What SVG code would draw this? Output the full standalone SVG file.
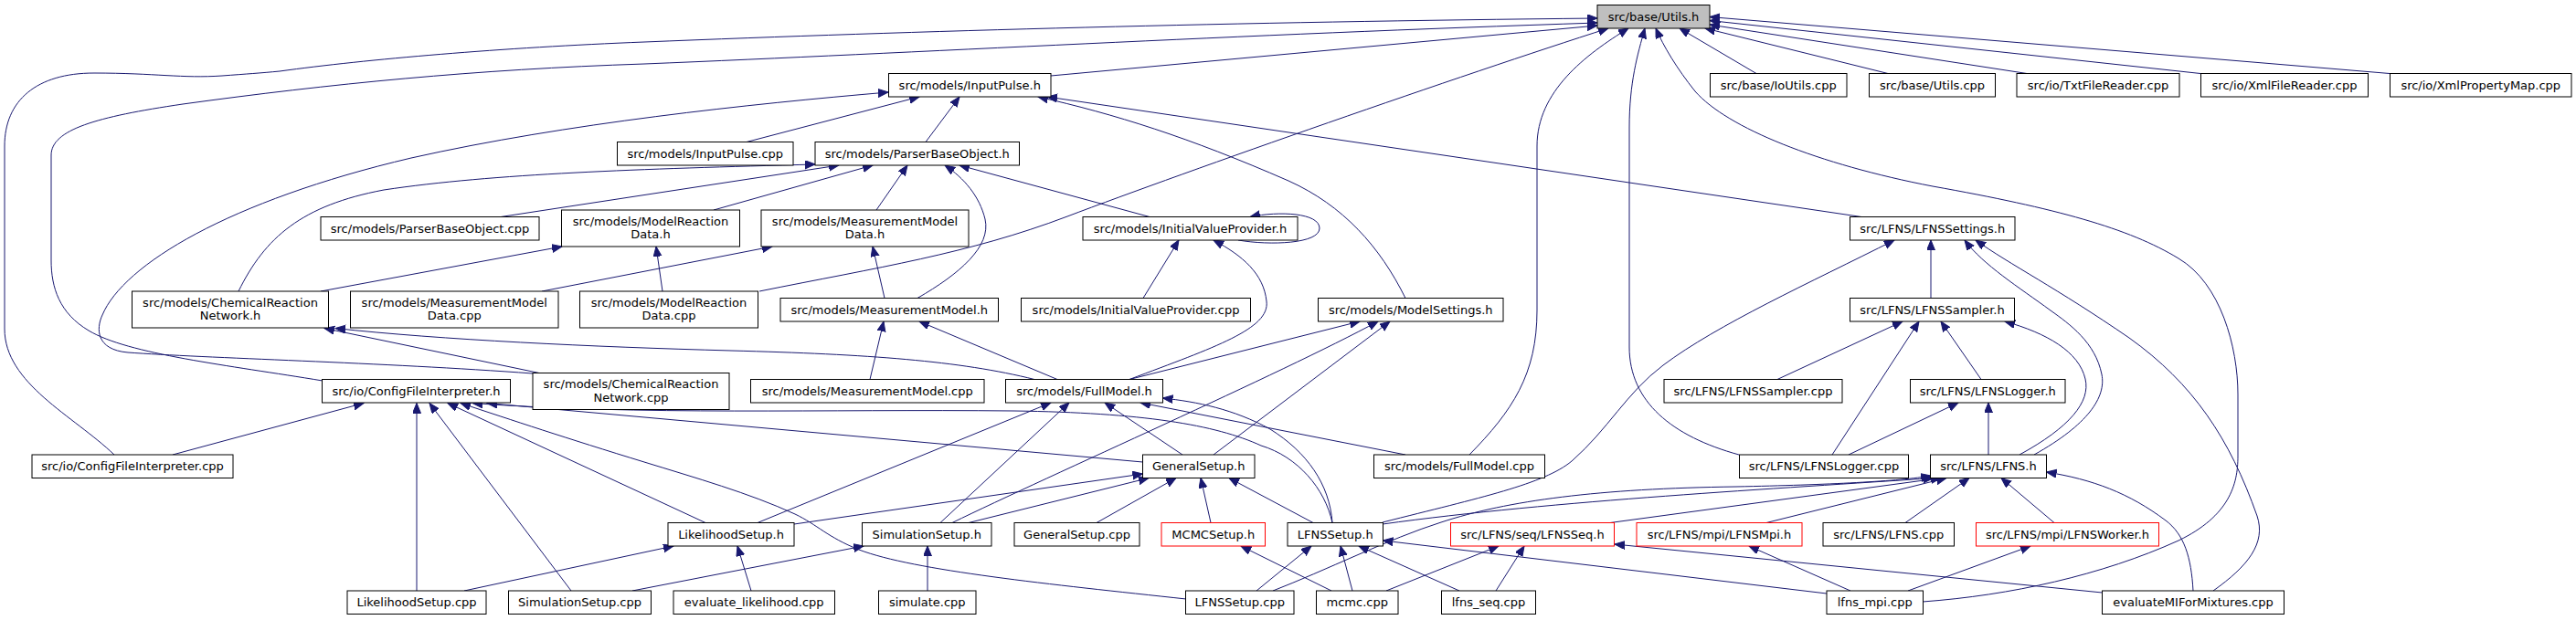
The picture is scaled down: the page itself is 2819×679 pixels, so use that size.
<svg xmlns="http://www.w3.org/2000/svg" width="2819" height="679" viewBox="0 0 2819 679">
<style>
.node rect{fill:#ffffff;stroke:#000000;stroke-width:1}
.node.red rect{stroke:#ff0000}
.node.root rect{fill:#bfbfbf}
.node text{font-family:"DejaVu Sans","Liberation Sans",sans-serif;font-size:13px;text-anchor:middle;fill:#000000}
.edges path{fill:none;stroke:#191970;stroke-width:1;marker-end:url(#arr)}
</style>
<defs>
<marker id="arr" markerUnits="userSpaceOnUse" markerWidth="12" markerHeight="10" refX="11" refY="4.5" orient="auto">
<path d="M0,0 L11,4.5 L0,9 z" fill="#191970" stroke="#191970" stroke-width="1"/>
</marker>
</defs>
<rect x="0" y="0" width="2819" height="679" fill="#ffffff"/>
<g id="connectors" class="edges">
<path d="M125,498 C80,455 5,420 5,360 L5,160 C5,110 40,80 103,80 C170,80 200,86 243,83 C270,81 285,80 306,78 C400,65 550,52 705,46 C1000,34 1350,24 1748,20"/>
<path d="M353,417 C250,400 140,388 97,362 C65,343 56,315 56,285 L56,170 C56,142 105,128 200,114 C360,92 520,76 705,70 C1000,58 1350,38 1748,25"/>
<path d="M1150,83 L1748,28"/>
<path d="M831,319 C960,293 1060,278 1168,237 C1300,187 1600,82 1760,31"/>
<path d="M1608,498 C1655,450 1682,410 1682,340 L1682,160 C1682,100 1735,60 1782,31"/>
<path d="M1903,498 C1830,478 1783,440 1783,380 L1783,140 C1783,90 1792,60 1800,31"/>
<path d="M2104,659 C2200,652 2300,630 2384,592 C2440,565 2449,530 2449,500 L2449,432 C2449,380 2430,310 2384,283 C2330,250 2250,228 2115,204 C1990,180 1890,140 1855,100 C1835,75 1820,50 1812,31"/>
<path d="M1922,80.5 L1838,31"/>
<path d="M2066,80.5 L1866,31"/>
<path d="M2218,80.5 L1871,27"/>
<path d="M2408,80.5 L1871,22.5"/>
<path d="M2615,80.5 L1871,18.5"/>
<path d="M583,409 C420,397 220,392 140,386 C105,383 105,360 112,345 C135,290 250,220 450,173 C620,135 820,114 972,101"/>
<path d="M817,155.5 L1006,106"/>
<path d="M1013,155.5 L1050,106"/>
<path d="M1538,326.5 C1510,270 1470,225 1410,198 C1300,150 1220,125 1136,106"/>
<path d="M2037,237.5 L1146,106"/>
<path d="M261,319 C290,260 330,225 420,208 C540,190 700,185 892,180"/>
<path d="M548,237.5 L918,181"/>
<path d="M781,230 L955,181"/>
<path d="M959,230 L993,181"/>
<path d="M1004,326.5 C1050,300 1085,270 1078,240 C1072,215 1055,195 1034,181"/>
<path d="M1258,237.5 L1050,181"/>
<path d="M351,319 L615,270"/>
<path d="M725,319 L718,270"/>
<path d="M593,319 L845,270"/>
<path d="M968,326.5 L955,270"/>
<path d="M1355,263 C1390,269 1444,267 1444,250 C1444,233 1400,231 1368,237.5"/>
<path d="M1251,326.5 L1290,263"/>
<path d="M1236,415.5 C1330,380 1390,360 1386,330 C1383,300 1360,280 1328,263"/>
<path d="M1513,572 C1620,545 1690,530 1720,505 C1760,470 1780,430 1820,400 C1880,355 1980,310 2073,263"/>
<path d="M2113,326.5 L2113,263"/>
<path d="M2226,498 C2285,465 2305,435 2300,410 C2293,375 2265,355 2244,340 C2210,315 2170,290 2150,263"/>
<path d="M2422,647 C2460,620 2480,595 2470,565 C2440,480 2400,420 2330,370 C2250,315 2200,290 2162,263"/>
<path d="M1945,415.5 L2082,352"/>
<path d="M2005,498 L2100,352"/>
<path d="M2168,415.5 L2124,352"/>
<path d="M2210,498 C2265,468 2288,440 2282,415 C2275,385 2240,365 2194,352"/>
<path d="M2023,498 L2143,441"/>
<path d="M2176,498 L2176,441"/>
<path d="M1393,647 C1450,625 1520,590 1577,572 C1650,548 1750,535 1900,533 C2000,531 2080,527 2113,521"/>
<path d="M1513,574 C1700,548 1950,535 2116,523.5"/>
<path d="M1762,572.5 L2124,523.5"/>
<path d="M1933,572.5 L2130,523.5"/>
<path d="M2085,572.5 L2155,523.5"/>
<path d="M2248,572.5 L2190,523.5"/>
<path d="M2400,647 C2398,610 2390,585 2370,570 C2330,540 2290,525 2239.5,517"/>
<path d="M1375,647 L1435,598"/>
<path d="M1480,647 L1467,598"/>
<path d="M1597,647 L1487,598"/>
<path d="M1999,650 L1513.5,592"/>
<path d="M1517,647 L1640,598"/>
<path d="M1637,647 L1668,598"/>
<path d="M2300.5,649 L1767,596"/>
<path d="M2025,647 L1914,598"/>
<path d="M2088,647 L2222,598"/>
<path d="M1457,647 L1358,598"/>
<path d="M869,574 L1250.5,519"/>
<path d="M1060,572.5 L1257,523.5"/>
<path d="M1200,572.5 L1287,523.5"/>
<path d="M1325,572.5 L1314,523.5"/>
<path d="M1437,572.5 L1345,523.5"/>
<path d="M829,572.5 L1150,441"/>
<path d="M1029,572.5 L1170,441"/>
<path d="M1294,498 L1209,441"/>
<path d="M1538,498 L1248,441"/>
<path d="M1458,572.5 C1455,530 1430,495 1390,470 C1350,448 1310,440 1272.5,436"/>
<path d="M1458,572.5 C1450,535 1420,500 1380,488 C1330,465 1250,452 1110,450 C900,448 700,455 517,441.5"/>
<path d="M1298,656 C1150,640 1000,625 940,602 C905,588 895,575 870,563 C820,540 760,523 705,506 C620,480 560,460 504,441.5"/>
<path d="M772,572.5 L490,441.5"/>
<path d="M625,647 L470,441.5"/>
<path d="M456,647 L456,441.5"/>
<path d="M189,498 L398,441.5"/>
<path d="M590,408.5 L355,359.5"/>
<path d="M1132,415.5 C1050,395 950,388 800,384 C650,380 480,372 367,359.5"/>
<path d="M952,415.5 L967,352"/>
<path d="M1157,415.5 L1006,352"/>
<path d="M1236,415.5 L1488,352"/>
<path d="M1042,572.5 C1150,520 1400,410 1508,352"/>
<path d="M1328,498 L1521,352"/>
<path d="M508,647 L737,598"/>
<path d="M822,647 L807,598"/>
<path d="M692,647 L945,598"/>
<path d="M1015,647 L1015,598"/>
<path d="M1250.5,506 L533,441.5"/>
</g>
<g id="n_utils_h" class="node root"><rect x="1748" y="5.5" width="123" height="25.5"/><text x="1809.5" y="22.5">src/base/Utils.h</text></g>
<g id="n_inputpulse_h" class="node"><rect x="972.5" y="80.5" width="177.5" height="25.5"/><text x="1061.25" y="97.5">src/models/InputPulse.h</text></g>
<g id="n_ioutils_cpp" class="node"><rect x="1871.5" y="80.5" width="149.5" height="25.5"/><text x="1946.25" y="97.5">src/base/IoUtils.cpp</text></g>
<g id="n_utils_cpp" class="node"><rect x="2045.5" y="80.5" width="138" height="25.5"/><text x="2114.5" y="97.5">src/base/Utils.cpp</text></g>
<g id="n_txtfilereader_cpp" class="node"><rect x="2207" y="80.5" width="178" height="25.5"/><text x="2296" y="97.5">src/io/TxtFileReader.cpp</text></g>
<g id="n_xmlfilereader_cpp" class="node"><rect x="2408.5" y="80.5" width="183" height="25.5"/><text x="2500" y="97.5">src/io/XmlFileReader.cpp</text></g>
<g id="n_xmlpropertymap_cpp" class="node"><rect x="2615.5" y="80.5" width="198.5" height="25.5"/><text x="2714.75" y="97.5">src/io/XmlPropertyMap.cpp</text></g>
<g id="n_inputpulse_cpp" class="node"><rect x="675.5" y="155.5" width="192.5" height="25.5"/><text x="771.75" y="172.5">src/models/InputPulse.cpp</text></g>
<g id="n_parserbaseobject_h" class="node"><rect x="892" y="155.5" width="223.5" height="25.5"/><text x="1003.75" y="172.5">src/models/ParserBaseObject.h</text></g>
<g id="n_parserbaseobject_cpp" class="node"><rect x="351" y="237.5" width="239" height="25.5"/><text x="470.5" y="254.5">src/models/ParserBaseObject.cpp</text></g>
<g id="n_modelreactiondata_h" class="node"><rect x="614.5" y="230" width="195" height="40"/><text x="712" y="246.5">src/models/ModelReaction</text><text x="712" y="261">Data.h</text></g>
<g id="n_measurementmodeldata_h" class="node"><rect x="833" y="230" width="227" height="40"/><text x="946.5" y="246.5">src/models/MeasurementModel</text><text x="946.5" y="261">Data.h</text></g>
<g id="n_initialvalueprovider_h" class="node"><rect x="1185" y="237.5" width="235" height="25.5"/><text x="1302.5" y="254.5">src/models/InitialValueProvider.h</text></g>
<g id="n_lfnssettings_h" class="node"><rect x="2024.5" y="237.5" width="180.5" height="25.5"/><text x="2114.75" y="254.5">src/LFNS/LFNSSettings.h</text></g>
<g id="n_chemicalreactionnetwork_h" class="node"><rect x="144.5" y="319" width="215" height="40"/><text x="252" y="335.5">src/models/ChemicalReaction</text><text x="252" y="350">Network.h</text></g>
<g id="n_measurementmodeldata_cpp" class="node"><rect x="383.5" y="319" width="227.5" height="40"/><text x="497.25" y="335.5">src/models/MeasurementModel</text><text x="497.25" y="350">Data.cpp</text></g>
<g id="n_modelreactiondata_cpp" class="node"><rect x="634.5" y="319" width="195" height="40"/><text x="732" y="335.5">src/models/ModelReaction</text><text x="732" y="350">Data.cpp</text></g>
<g id="n_measurementmodel_h" class="node"><rect x="854" y="326.5" width="238.5" height="25.5"/><text x="973.25" y="343.5">src/models/MeasurementModel.h</text></g>
<g id="n_initialvalueprovider_cpp" class="node"><rect x="1117.5" y="326.5" width="251" height="25.5"/><text x="1243" y="343.5">src/models/InitialValueProvider.cpp</text></g>
<g id="n_modelsettings_h" class="node"><rect x="1442.5" y="326.5" width="202.5" height="25.5"/><text x="1543.75" y="343.5">src/models/ModelSettings.h</text></g>
<g id="n_lfnssampler_h" class="node"><rect x="2024.5" y="326.5" width="180" height="25.5"/><text x="2114.5" y="343.5">src/LFNS/LFNSSampler.h</text></g>
<g id="n_configfileinterpreter_h" class="node"><rect x="352.5" y="415.5" width="206" height="25.5"/><text x="455.5" y="432.5">src/io/ConfigFileInterpreter.h</text></g>
<g id="n_chemicalreactionnetwork_cpp" class="node"><rect x="583" y="408.5" width="215" height="40"/><text x="690.5" y="425">src/models/ChemicalReaction</text><text x="690.5" y="439.5">Network.cpp</text></g>
<g id="n_measurementmodel_cpp" class="node"><rect x="821.5" y="415.5" width="255.5" height="25.5"/><text x="949.25" y="432.5">src/models/MeasurementModel.cpp</text></g>
<g id="n_fullmodel_h" class="node"><rect x="1100.5" y="415.5" width="172" height="25.5"/><text x="1186.5" y="432.5">src/models/FullModel.h</text></g>
<g id="n_lfnssampler_cpp" class="node"><rect x="1821" y="415.5" width="195" height="25.5"/><text x="1918.5" y="432.5">src/LFNS/LFNSSampler.cpp</text></g>
<g id="n_lfnslogger_h" class="node"><rect x="2090.5" y="415.5" width="169.5" height="25.5"/><text x="2175.25" y="432.5">src/LFNS/LFNSLogger.h</text></g>
<g id="n_configfileinterpreter_cpp" class="node"><rect x="35" y="498" width="220" height="25.5"/><text x="145" y="515">src/io/ConfigFileInterpreter.cpp</text></g>
<g id="n_generalsetup_h" class="node"><rect x="1250.5" y="498" width="122.5" height="25.5"/><text x="1311.75" y="515">GeneralSetup.h</text></g>
<g id="n_fullmodel_cpp" class="node"><rect x="1503.5" y="498" width="187" height="25.5"/><text x="1597" y="515">src/models/FullModel.cpp</text></g>
<g id="n_lfnslogger_cpp" class="node"><rect x="1903.5" y="498" width="185" height="25.5"/><text x="1996" y="515">src/LFNS/LFNSLogger.cpp</text></g>
<g id="n_lfns_h" class="node"><rect x="2112.5" y="498" width="127" height="25.5"/><text x="2176" y="515">src/LFNS/LFNS.h</text></g>
<g id="n_likelihoodsetup_h" class="node"><rect x="731" y="572.5" width="138" height="25.5"/><text x="800" y="589.5">LikelihoodSetup.h</text></g>
<g id="n_simulationsetup_h" class="node"><rect x="943.5" y="572.5" width="141.5" height="25.5"/><text x="1014.25" y="589.5">SimulationSetup.h</text></g>
<g id="n_generalsetup_cpp" class="node"><rect x="1110" y="572.5" width="137" height="25.5"/><text x="1178.5" y="589.5">GeneralSetup.cpp</text></g>
<g id="n_mcmcsetup_h" class="node red"><rect x="1271" y="572.5" width="113.5" height="25.5"/><text x="1327.75" y="589.5">MCMCSetup.h</text></g>
<g id="n_lfnssetup_h" class="node"><rect x="1409" y="572.5" width="104.5" height="25.5"/><text x="1461.25" y="589.5">LFNSSetup.h</text></g>
<g id="n_lfnsseq_h" class="node red"><rect x="1587.5" y="572.5" width="179" height="25.5"/><text x="1677" y="589.5">src/LFNS/seq/LFNSSeq.h</text></g>
<g id="n_lfnsmpi_h" class="node red"><rect x="1791" y="572.5" width="181" height="25.5"/><text x="1881.5" y="589.5">src/LFNS/mpi/LFNSMpi.h</text></g>
<g id="n_lfns_cpp" class="node"><rect x="1995" y="572.5" width="143.5" height="25.5"/><text x="2066.75" y="589.5">src/LFNS/LFNS.cpp</text></g>
<g id="n_lfnsworker_h" class="node red"><rect x="2162.5" y="572.5" width="200" height="25.5"/><text x="2262.5" y="589.5">src/LFNS/mpi/LFNSWorker.h</text></g>
<g id="n_likelihoodsetup_cpp" class="node"><rect x="380" y="647" width="152" height="25.5"/><text x="456" y="664">LikelihoodSetup.cpp</text></g>
<g id="n_simulationsetup_cpp" class="node"><rect x="556.5" y="647" width="156" height="25.5"/><text x="634.5" y="664">SimulationSetup.cpp</text></g>
<g id="n_evaluate_likelihood_cpp" class="node"><rect x="737" y="647" width="176.5" height="25.5"/><text x="825.25" y="664">evaluate_likelihood.cpp</text></g>
<g id="n_simulate_cpp" class="node"><rect x="961.5" y="647" width="106.5" height="25.5"/><text x="1014.75" y="664">simulate.cpp</text></g>
<g id="n_lfnssetup_cpp" class="node"><rect x="1297.5" y="647" width="118.5" height="25.5"/><text x="1356.75" y="664">LFNSSetup.cpp</text></g>
<g id="n_mcmc_cpp" class="node"><rect x="1440.5" y="647" width="89.5" height="25.5"/><text x="1485.25" y="664">mcmc.cpp</text></g>
<g id="n_lfns_seq_cpp" class="node"><rect x="1577.5" y="647" width="103" height="25.5"/><text x="1629" y="664">lfns_seq.cpp</text></g>
<g id="n_lfns_mpi_cpp" class="node"><rect x="1999" y="647" width="105.5" height="25.5"/><text x="2051.75" y="664">lfns_mpi.cpp</text></g>
<g id="n_evaluatemiformixtures_cpp" class="node"><rect x="2300.5" y="647" width="199" height="25.5"/><text x="2400" y="664">evaluateMIForMixtures.cpp</text></g>
</svg>
